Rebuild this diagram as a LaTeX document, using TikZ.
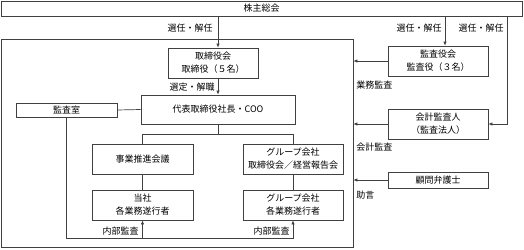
\documentclass[tikz,border=0pt]{standalone}
\usepackage{fontspec}
\setmainfont{Noto Sans CJK JP}
\usetikzlibrary{arrows.meta}
\begin{document}
\begin{tikzpicture}[x=1pt,y=-1pt,>={Latex[length=4pt,width=3.5pt]},
	line width=0.7pt, draw=black!75,
	box/.style={draw=black!75,minimum width=101pt,minimum height=30pt,inner sep=1pt,
		align=center,font=\fontsize{9}{13}\selectfont},
	lbl/.style={inner sep=1pt,font=\fontsize{9}{11}\selectfont}]
	\useasboundingbox (0,0) rectangle (524,249);
	\node[box,minimum width=521pt,minimum height=15pt] (soukai) at (261.5,8.5) {株主総会};
	\node[box,minimum width=352pt,minimum height=208pt] (kaisha) at (177,143) {};
	\node[box,minimum width=90pt] (torikai) at (213,63) {取締役会\\取締役（５名）};
	\node[box,minimum width=154pt,minimum height=29pt] (coo) at (218,109.5) {代表取締役社長・COO};
	\node[box,minimum height=14pt] (kansashitsu) at (66.5,110) {監査室};
	\node[box] (suishin) at (142.5,159) {事業推進会議};
	\node[box,minimum width=100pt] (gtorikai) at (293,159) {グループ会社\\取締役会／経営報告会};
	\node[box] (tousha) at (142.5,205) {当社\\各業務遂行者};
	\node[box,minimum width=100pt] (gsuikou) at (293,205) {グループ会社\\各業務遂行者};
	\node[box,minimum width=100pt] (kansayaku) at (438,61) {監査役会\\監査役（３名）};
	\node[box,minimum width=100pt] (kaikei) at (438,124) {会計監査人\\（監査法人）};
	\node[box,minimum width=100pt,minimum height=16pt] (komon) at (438,180) {顧問弁護士};
	\coordinate (bunki) at (0,134);
	\coordinate (naibu) at (0,238);
	\coordinate (migi) at (507,0);
	\coordinate (kansa) at (445,0);

	\draw[->] (soukai.south -| coo) -- (torikai.north -| coo);
	\node[lbl,anchor=east] (sen1) at (214,28) {選任・解任};
	\draw[->] (torikai.south -| coo) -- (coo.north);
	\node[lbl,anchor=east] (sentei) at (216,87) {選定・解職};
	\draw (kansashitsu.east) -- (coo.west);
	\draw (coo.south) -- (coo.south |- bunki);
	\draw (suishin.north) |- (bunki -| gtorikai.north) -- (gtorikai.north);
	\draw (suishin.south) -- (tousha.north);
	\draw (gtorikai.south) -- (gsuikou.north);
	\draw[->] (kansashitsu.south) |- (naibu -| gsuikou.south) -- (gsuikou.south);
	\draw[->] (naibu -| tousha.south) -- (tousha.south);
	\node[lbl,anchor=east] (naibu1) at (140,231) {内部監査};
	\node[lbl,anchor=east] (naibu2) at (291,231) {内部監査};

	\draw[->] (soukai.south -| kansa) -- (kansayaku.north -| kansa);
	\node[lbl,anchor=east] (sen2) at (443,28) {選任・解任};
	\draw[->] (soukai.south -| migi) |- (kaikei.east);
	\node[lbl,anchor=east] (sen3) at (505,28) {選任・解任};
	\draw[->] (kansayaku.west) -- (kansayaku.west -| kaisha.east);
	\node[lbl,anchor=west] (gyoumu) at (355,85) {業務監査};
	\draw[->] (kaikei.west) -- (kaikei.west -| kaisha.east);
	\node[lbl,anchor=west] (kaikeikansa) at (355,147) {会計監査};
	\draw[->] (komon.west) -- (komon.west -| kaisha.east);
	\node[lbl,anchor=west] (jogen) at (355,195) {助言};
\end{tikzpicture}
\end{document}
